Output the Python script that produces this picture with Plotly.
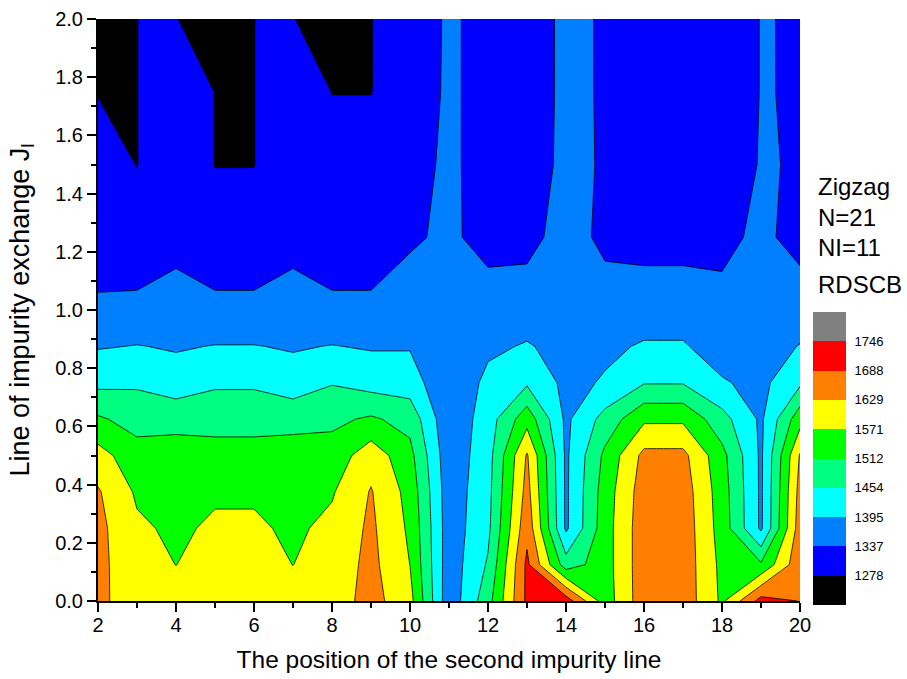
import plotly.graph_objects as go

# Grid: position of the second impurity line (x) and impurity-line exchange J_l (y)
impurity_pos = list(range(2, 21))
exchange_j = [0.0, 0.125, 0.25, 0.375, 0.5, 0.625, 0.75, 0.875, 1.0, 1.25, 1.5, 1.75, 2.0]

# RDSCB values, one row per J_l value, one column per impurity position (2..20)
rdscb = [
    [1645, 1592, 1590, 1592, 1592, 1590, 1600, 1650, 1590, 1355, 1490, 1700, 1720, 1540, 1665, 1665, 1560, 1710, 1686],
    [1645, 1590, 1570, 1590, 1590, 1570, 1595, 1645, 1570, 1360, 1460, 1700, 1480, 1545, 1665, 1665, 1555, 1520, 1670],
    [1645, 1580, 1560, 1580, 1580, 1560, 1585, 1640, 1560, 1362, 1440, 1670, 1385, 1545, 1665, 1665, 1545, 1385, 1660],
    [1635, 1562, 1555, 1562, 1562, 1555, 1565, 1633, 1550, 1360, 1435, 1650, 1385, 1540, 1660, 1660, 1540, 1385, 1650],
    [1593, 1535, 1535, 1535, 1535, 1535, 1535, 1605, 1530, 1355, 1430, 1635, 1385, 1525, 1645, 1645, 1530, 1385, 1634],
    [1520, 1490, 1495, 1490, 1490, 1495, 1500, 1520, 1492, 1348, 1425, 1548, 1383, 1475, 1560, 1560, 1475, 1385, 1548],
    [1439, 1445, 1420, 1445, 1445, 1420, 1450, 1430, 1423, 1345, 1410, 1445, 1380, 1400, 1450, 1450, 1400, 1380, 1443],
    [1391, 1397, 1390, 1397, 1397, 1390, 1397, 1390, 1391, 1345, 1384, 1400, 1375, 1385, 1400, 1400, 1370, 1375, 1397],
    [1345, 1350, 1365, 1350, 1350, 1365, 1350, 1350, 1360, 1345, 1360, 1365, 1368, 1360, 1370, 1370, 1355, 1365, 1370],
    [1310, 1300, 1315, 1300, 1300, 1315, 1300, 1300, 1330, 1345, 1320, 1320, 1358, 1325, 1315, 1315, 1320, 1350, 1315],
    [1300, 1277, 1320, 1277, 1277, 1320, 1300, 1300, 1320, 1345, 1318, 1304, 1352, 1331, 1305, 1305, 1305, 1340, 1333],
    [1276, 1277, 1320, 1277, 1277, 1320, 1277, 1277, 1305, 1345, 1318, 1304, 1350, 1331, 1305, 1305, 1305, 1338, 1334],
    [1250, 1277, 1320, 600, 1277, 1320, 600, 1277, 1300, 1345, 1318, 1304, 1350, 1331, 1305, 1305, 1305, 1338, 1334],
]

# Contour levels and the colour of each band (below first level ... above last level)
levels = [1278, 1337, 1395, 1454, 1512, 1571, 1629, 1688, 1746]
band_colors = ["#000000", "#0000FF", "#0080FF", "#00FFFF", "#00FF80",
               "#00FF00", "#FFFF00", "#FF8000", "#FF0000", "#808080"]
info_lines = ["Zigzag", "N=21", "NI=11", "RDSCB"]

FONT = "Liberation Sans, Arial, sans-serif"

# stepped colour scale: each band colour occupies its own slot
n_b = len(band_colors) - 1
stepped = []
for i, c in enumerate(band_colors):
    lo = max(0.0, (i - 0.5) / n_b)
    hi = min(1.0, (i + 0.5) / n_b)
    stepped.append([lo, c])
    stepped.append([hi, c])

step = (levels[-1] - levels[0]) / (len(levels) - 1)

fig = go.Figure()

fig.add_trace(go.Contour(
    x=impurity_pos, y=exchange_j, z=rdscb,
    autocontour=False,
    contours=dict(start=levels[0], end=levels[-1], size=step,
                  coloring="fill", showlines=True),
    line=dict(color="black", width=0.8, smoothing=0),
    colorscale=stepped, showscale=False, hoverinfo="skip",
))

# colour key drawn as a one-column heatmap of band indices
fig.add_trace(go.Heatmap(
    x=[0.5], y=[i + 0.5 for i in range(len(band_colors))],
    z=[[i] for i in range(len(band_colors))],
    zmin=0, zmax=n_b, colorscale=stepped, showscale=False,
    xaxis="x2", yaxis="y2", hoverinfo="skip",
))

# page geometry
W, H = 907, 679
ml, mr, mt, mb = 98, 55, 19, 70
pw = W - ml - mr
ph = H - mt - mb


def px_x(p):
    return (p - ml) / pw


def px_y(p):
    return (H - mb - p) / ph


axis_common = dict(
    showgrid=False, zeroline=False, showline=True, linecolor="black", linewidth=2,
    ticks="outside", ticklen=9, tickwidth=2, tickcolor="black", automargin=False,
    tickfont=dict(family=FONT, size=20, color="black"),
)

fig.update_layout(
    width=W, height=H,
    margin=dict(l=ml, r=mr, t=mt, b=mb, pad=0, autoexpand=False),
    paper_bgcolor="white", plot_bgcolor="white",
    font=dict(family=FONT, color="black"),
    xaxis=dict(
        domain=[0, px_x(800)], range=[2, 20], tick0=2, dtick=2,
        ticklabelstandoff=-4,
        minor=dict(dtick=1, ticks="outside", ticklen=5, tickwidth=2, tickcolor="black"),
        title=dict(text="The position of the second impurity line",
                   font=dict(family=FONT, size=24.5), standoff=16),
        **axis_common,
    ),
    yaxis=dict(
        domain=[px_y(601), 1], range=[0, 2], tick0=0, dtick=0.2, tickformat=".1f",
        minor=dict(dtick=0.1, ticks="outside", ticklen=5, tickwidth=2, tickcolor="black"),
        title=dict(text="Line of impurity exchange J<sub>l</sub>",
                   font=dict(family=FONT, size=27), standoff=18),
        **axis_common,
    ),
    xaxis2=dict(domain=[px_x(813), px_x(846)], range=[0, 1], visible=False,
                anchor="y2"),
    yaxis2=dict(domain=[px_y(605), px_y(312)], range=[0, len(band_colors)],
                anchor="x2", side="right", showgrid=False, zeroline=False,
                showline=False, ticks="outside", ticklen=5,
                tickcolor="rgba(0,0,0,0)",
                tickvals=list(range(1, len(levels) + 1)),
                ticktext=[str(v) for v in levels],
                tickfont=dict(family=FONT, size=13, color="black")),
)

# text block beside the colour key
info_y = [187, 217, 247, 284]
for txt, yy in zip(info_lines, info_y):
    fig.add_annotation(
        text=txt, xref="paper", yref="paper", x=px_x(816), y=px_y(yy),
        xanchor="left", yanchor="middle", showarrow=False,
        font=dict(family=FONT, size=24, color="black"),
    )

fig.write_html("out.html")
